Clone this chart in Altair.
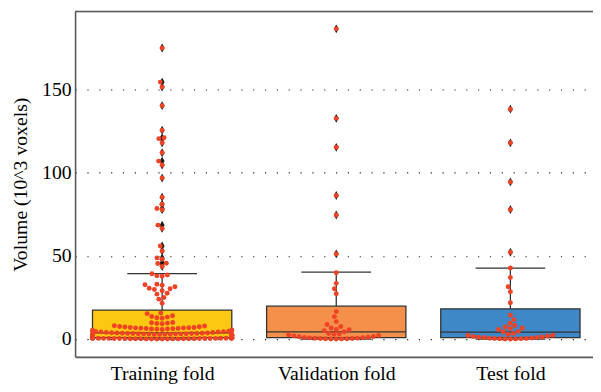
import math
import altair as alt
import pandas as pd

# ---------------- data ----------------
categories = ["Training fold", "Validation fold", "Test fold"]
box_colors = ["#FDC812", "#F5904B", "#3F88C7"]

training = [
    175, 154.5, 151.5, 140.3, 125.6, 121, 120.5, 118, 112, 107, 104.6, 96.8,
    85.3, 81, 78.5, 77.8, 68.5, 66.5, 56, 53, 48.8, 48, 45.6, 45.4, 43.6,
    39.3, 38.5, 38, 37.8, 33, 32.6, 32.4, 31.5, 30.6, 30.2, 29.8, 29, 27.5,
    27, 25, 24, 21.5,
    15.6, 15.3, 14, 13.6, 13.2, 12.8, 12.5, 10, 9.8, 9.6, 9.4, 9.2, 8, 7.8,
    7.6, 7.4, 7.2, 7, 6.9, 6.8, 6.7, 6.6, 6.5, 6.4, 6.3, 6.2, 6.1, 6.0, 5.9,
    5.8, 5.5, 5.3, 5.1, 4.9, 4.7, 4.5, 4.4, 4.3, 4.2, 4.0, 3.9, 3.8,
    3.6, 3.6, 3.5, 3.5, 3.4, 3.4, 3.3, 3.3, 3.2, 3.2, 3.1, 3.1, 3.0, 3.0,
    2.9, 2.9, 2.8, 2.8, 2.7, 2.7, 2.6, 2.6, 2.5, 2.5, 2.4, 2.4, 2.3, 2.2,
    2.1, 2.0, 1.8, 1.7, 1.5, 1.4, 1.2,
    0.95, 0.9, 0.9, 0.85, 0.8, 0.8, 0.75, 0.75, 0.7, 0.7, 0.65, 0.65, 0.6,
    0.6, 0.6, 0.55, 0.55, 0.5, 0.5, 0.5, 0.45, 0.45, 0.4, 0.4, 0.4, 0.35,
    0.35, 0.3, 0.3, 0.3, 0.25, 0.25, 0.2, 0.2, 0.2, 0.15, 0.15, 0.1, 0.1,
    0.1, 0.05, 0.05, 0.0, 0.0,
]
validation = [
    186.5, 132.7, 115.3, 86.3, 74.6, 51.2,
    39.9, 33.5, 30.2, 27.2,
    16.5, 13.5, 10.5, 8.7, 7.5, 6.7, 5.8, 5.6, 5.0, 4.4,
    3.3, 3.1, 2.9,
    2.6, 2.1, 1.9, 1.5, 1.4, 1.1, 1.0, 0.8, 0.7, 0.55, 0.5, 0.35, 0.3, 0.2,
    0.15, 0.1, 0.05, 0.0,
]
test = [
    138.2, 118, 94.5, 77.9, 52.2,
    42.7, 37, 31.4, 28.5, 21.8,
    14.4, 11.7, 9.5, 8.1, 7.3, 6.7, 6.3, 5.7, 4.6, 4.2, 3.4,
    2.9, 2.3, 2.1, 1.7, 1.55, 1.25, 1.15, 1.0, 0.9, 0.65, 0.55, 0.4, 0.35,
    0.25, 0.2, 0.1, 0.05, 0.0,
]
series = [training, validation, test]

# box statistics
q1 = [0.8, 0.9, 0.9]
median = [3.7, 4.3, 4.2]
q3 = [17.4, 19.8, 18.2]
whisker_lo = [0.0, 0.0, 0.0]
whisker_hi = [39.3, 40.3, 42.7]

y_ticks = [0, 50, 100, 150]

# ---------------- layout ----------------
W, H = 525, 350
X_DOM = [-0.5, 2.4745]
Y_DOM = [-10.7, 196.9]
px_x = W / (X_DOM[1] - X_DOM[0])
px_y = H / (Y_DOM[1] - Y_DOM[0])
DOT = 5.4          # swarm spacing in px
HALF = 0.4         # half box width in x units

FONT = "Liberation Serif"


def swarm_offsets(values):
    """beeswarm layout (like seaborn.swarmplot), returns x offsets in data units"""
    order = sorted(range(len(values)), key=lambda i: values[i])
    placed = []
    offs = [0.0] * len(values)
    lim = HALF * px_x
    for i in order:
        y = values[i] * px_y
        near = [(px, py) for px, py in placed if abs(py - y) < DOT]
        cands = [0.0]
        for px, py in near:
            dx = math.sqrt(max(DOT * DOT - (py - y) ** 2, 0.0))
            cands += [px + dx, px - dx]
        cands.sort(key=lambda c: (abs(c), c))
        x = cands[-1]
        for c in cands:
            if all((c - px) ** 2 + (y - py) ** 2 >= DOT * DOT - 1e-6 for px, py in near):
                x = c
                break
        placed.append((x, y))
        offs[i] = max(-lim, min(lim, x)) / px_x
    return offs


pts_rows, out_rows, box_rows = [], [], []
for k, (cat, vals) in enumerate(zip(categories, series)):
    offs = swarm_offsets(vals)
    for v, o in zip(vals, offs):
        pts_rows.append({"cat": cat, "x": k + o, "v": v})
        if v > whisker_hi[k]:
            out_rows.append({"cat": cat, "x": k, "v": v})
    box_rows.append({
        "cat": cat, "c": k, "xl": k - HALF, "xr": k + HALF,
        "cl": k - HALF / 2, "cr": k + HALF / 2,
        "q1": q1[k], "med": median[k], "q3": q3[k],
        "lo": whisker_lo[k], "hi": whisker_hi[k],
    })

pts = pd.DataFrame(pts_rows)
outl = pd.DataFrame(out_rows)
boxes = pd.DataFrame(box_rows)

label_expr = "[" + ",".join("'%s'" % c for c in categories) + "][datum.value]"

xscale = alt.Scale(domain=X_DOM, nice=False, zero=False)
yscale = alt.Scale(domain=Y_DOM, nice=False, zero=False)

x_axis = alt.Axis(values=[0, 1, 2], labelExpr=label_expr, ticks=False, grid=False,
                  title=None, labelPadding=7, labelFontSize=20, labelFont=FONT,
                  labelColor="black", domainColor="#5a5a5a", domainWidth=1.6)
y_axis = alt.Axis(values=y_ticks, ticks=False, grid=True, gridDash=[1.2, 10.8],
                  gridColor="#222", gridWidth=1.2, labelPadding=4, labelFontSize=20,
                  labelFont=FONT, labelColor="black", domainColor="#5a5a5a",
                  domainWidth=1.6, title="Volume (10^3 voxels)", titleFont=FONT,
                  titleFontSize=20, titleFontWeight="normal", titleColor="black",
                  titlePadding=11)

base_box = alt.Chart(boxes)

box = base_box.mark_bar(stroke="#333", strokeWidth=1.3, opacity=1).encode(
    x=alt.X("xl:Q", scale=xscale, axis=x_axis),
    x2="xr:Q",
    y=alt.Y("q1:Q", scale=yscale, axis=y_axis),
    y2="q3:Q",
    color=alt.Color("cat:N", scale=alt.Scale(domain=categories, range=box_colors), legend=None),
)
whisk_up = base_box.mark_rule(color="#333", strokeWidth=1.3).encode(
    x="c:Q", y="q3:Q", y2="hi:Q")
whisk_dn = base_box.mark_rule(color="#333", strokeWidth=1.3).encode(
    x="c:Q", y="lo:Q", y2="q1:Q")
cap_up = base_box.mark_rule(color="#333", strokeWidth=1.3).encode(
    x="cl:Q", x2="cr:Q", y="hi:Q")
cap_dn = base_box.mark_rule(color="#333", strokeWidth=1.3).encode(
    x="cl:Q", x2="cr:Q", y="lo:Q")
med = base_box.mark_rule(color="#333", strokeWidth=1.3).encode(
    x="xl:Q", x2="xr:Q", y="med:Q")

diamonds = alt.Chart(outl).mark_point(
    shape="M0,-1L0.55,0L0,1L-0.55,0Z", filled=True, color="#1a1a1a", size=80, opacity=1
).encode(x="x:Q", y="v:Q")

points = alt.Chart(pts).mark_circle(color="#EE4325", size=25, opacity=1).encode(
    x="x:Q", y="v:Q")

top_border = alt.Chart(pd.DataFrame({"a": [0]})).mark_rule(
    color="#5a5a5a", strokeWidth=1.6).encode(
    x=alt.value(0), x2=alt.value(W), y=alt.value(0))

chart = alt.layer(box, whisk_up, whisk_dn, cap_up, cap_dn, med, diamonds, points,
                  top_border).properties(
    width=W, height=H,
    autosize=alt.AutoSizeParams(type="none"),
    padding={"left": 68, "top": 1, "right": 0, "bottom": 33},
).configure_view(stroke=None).configure(background="white")

chart.save("out.html", embed_options={"renderer": "svg", "actions": False})
